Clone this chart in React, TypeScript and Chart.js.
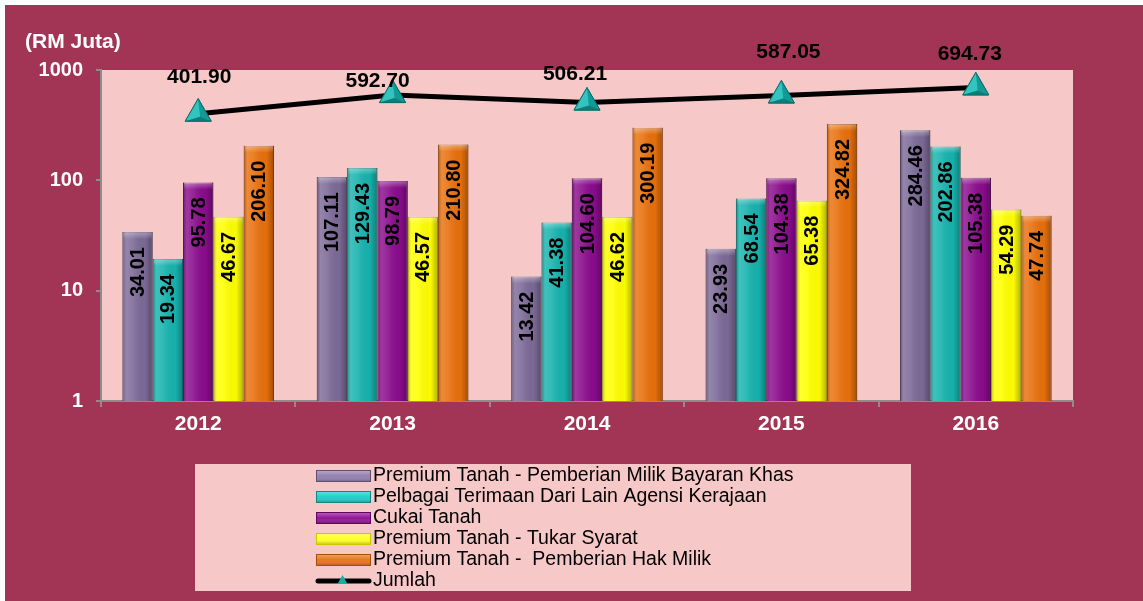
import React, { useEffect, useRef } from 'react';
import { Chart, registerables } from 'chart.js';

Chart.register(...registerables);

// ---- Data ----
const YEARS = ['2012', '2013', '2014', '2015', '2016'];
const SERIES_NAMES = [
  'Premium Tanah - Pemberian Milik Bayaran Khas',
  'Pelbagai Terimaan Dari Lain Agensi Kerajaan',
  'Cukai Tanah',
  'Premium Tanah - Tukar Syarat',
  'Premium Tanah -  Pemberian Hak Milik',
];
const LINE_NAME = 'Jumlah';
const PREMIUM_BAYARAN_KHAS = [34.01, 107.11, 13.42, 23.93, 284.46];
const PELBAGAI_TERIMAAN = [19.34, 129.43, 41.38, 68.54, 202.86];
const CUKAI_TANAH = [95.78, 98.79, 104.6, 104.38, 105.38];
const TUKAR_SYARAT = [46.67, 46.57, 46.62, 65.38, 54.29];
const HAK_MILIK = [206.1, 210.8, 300.19, 324.82, 47.74];
const JUMLAH = [401.9, 592.7, 506.21, 587.05, 694.73];
const Y_TICKS = [1, 10, 100, 1000];
const Y_TITLE = '(RM Juta)';

// ---- Styles ----
const FONT = '"Liberation Sans", Arial, sans-serif';
const PAGE_BG = '#A23456';
const PLOT_BG = '#F7C8C8';
const BAR_COLORS = ['#7D6A98', '#17B3AE', '#8A0C8C', '#FFFF00', '#E8700C'];
const BAR_BORDERS = ['#5E4E74', '#0E8682', '#5E0660', '#C8C800', '#A84E06'];
const LEGEND_COLORS = ['#9580B0', '#1CCFCB', '#93149A', '#FFFF22', '#E8761E'];
const LINE_LABEL_DX = [1, -15, -12, 7, -6];
const LINE_LABEL_DY = [-36, -14, -28, -43, -33];

const BAR_SERIES = [PREMIUM_BAYARAN_KHAS, PELBAGAI_TERIMAAN, CUKAI_TANAH, TUKAR_SYARAT, HAK_MILIK];

const decor = {
  id: 'decor',
  beforeDraw(chart: any) {
    const { ctx, chartArea: a } = chart;
    ctx.save();
    ctx.fillStyle = PLOT_BG;
    ctx.fillRect(a.left, a.top, a.right - a.left, a.bottom - a.top);
    ctx.restore();
  },
  afterDatasetDraw(chart: any, args: any) {
    const ds = chart.data.datasets[args.index];
    if (ds.type !== 'bar') return;
    const { ctx } = chart;
    const meta = chart.getDatasetMeta(args.index);
    ctx.save();
    meta.data.forEach((el: any) => {
      const { x, y, base, width } = el.getProps(['x', 'y', 'base', 'width'], true);
      const left = x - width / 2;
      const h = base - y;
      const g = ctx.createLinearGradient(left, 0, left + width, 0);
      g.addColorStop(0, 'rgba(0,0,0,0.25)');
      g.addColorStop(0.12, 'rgba(255,255,255,0.18)');
      g.addColorStop(0.35, 'rgba(255,255,255,0.10)');
      g.addColorStop(0.75, 'rgba(0,0,0,0.02)');
      g.addColorStop(1, 'rgba(0,0,0,0.30)');
      ctx.fillStyle = g;
      ctx.fillRect(left, y, width, h);
      const gt = ctx.createLinearGradient(0, y, 0, y + 7);
      gt.addColorStop(0, 'rgba(255,255,255,0.35)');
      gt.addColorStop(1, 'rgba(255,255,255,0)');
      ctx.fillStyle = gt;
      ctx.fillRect(left + 1, y, width - 2, 7);
    });
    ctx.restore();
  },
  afterDatasetsDraw(chart: any) {
    const { ctx } = chart;
    ctx.save();
    chart.data.datasets.forEach((ds: any, di: number) => {
      const meta = chart.getDatasetMeta(di);
      if (ds.type === 'bar') {
        ctx.font = `bold 20px ${FONT}`;
        ctx.fillStyle = '#000';
        ctx.textAlign = 'right';
        ctx.textBaseline = 'middle';
        meta.data.forEach((el: any, i: number) => {
          const { x, y } = el.getProps(['x', 'y'], true);
          ctx.save();
          ctx.translate(x + 1, y + 15);
          ctx.rotate(-Math.PI / 2);
          ctx.fillText(ds.data[i].toFixed(2), 0, 0);
          ctx.restore();
        });
      } else {
        meta.data.forEach((el: any, i: number) => {
          const { x, y } = el.getProps(['x', 'y'], true);
          const r = 15;
          const ax = x, ay = y - r;
          const lx = x - 0.866 * r, ly = y + 0.5 * r;
          const rx = x + 0.866 * r, ry = y + 0.5 * r;
          const cx = x + 2, cy = y + 0.2 * r;
          // left face
          ctx.beginPath();
          ctx.moveTo(ax, ay); ctx.lineTo(lx, ly); ctx.lineTo(cx, cy); ctx.closePath();
          ctx.fillStyle = '#33C4BF'; ctx.fill();
          // right face
          ctx.beginPath();
          ctx.moveTo(ax, ay); ctx.lineTo(cx, cy); ctx.lineTo(rx, ry); ctx.closePath();
          ctx.fillStyle = '#129A96'; ctx.fill();
          // bottom face
          ctx.beginPath();
          ctx.moveTo(lx, ly); ctx.lineTo(cx, cy); ctx.lineTo(rx, ry); ctx.closePath();
          ctx.fillStyle = '#0C7E7A'; ctx.fill();
          ctx.beginPath();
          ctx.moveTo(ax, ay); ctx.lineTo(lx, ly); ctx.lineTo(rx, ry); ctx.closePath();
          ctx.strokeStyle = '#0B6F6C'; ctx.lineWidth = 1; ctx.stroke();
          // value label
          ctx.font = `bold 21px ${FONT}`;
          ctx.fillStyle = '#000';
          ctx.textAlign = 'center';
          ctx.textBaseline = 'middle';
          ctx.fillText(ds.data[i].toFixed(2), x + LINE_LABEL_DX[i], y + LINE_LABEL_DY[i]);
        });
      }
    });
    ctx.restore();
  },
  afterDraw(chart: any) {
    const { ctx } = chart;
    ctx.save();
    // y title
    ctx.font = `bold 21px ${FONT}`;
    ctx.fillStyle = '#FFFFFF';
    ctx.textAlign = 'left';
    ctx.textBaseline = 'middle';
    ctx.fillText(Y_TITLE, 20, 37);
    // legend box
    const bx = 190, by = 459, bw = 716, bh = 127;
    ctx.fillStyle = PLOT_BG;
    ctx.fillRect(bx, by, bw, bh);
    const sx = 311, sw = 55, rowY = [471, 492, 513, 534, 555, 576];
    ctx.font = `19.5px ${FONT}`;
    ctx.textBaseline = 'middle';
    SERIES_NAMES.forEach((name, i) => {
      const cy = rowY[i];
      ctx.fillStyle = LEGEND_COLORS[i];
      ctx.fillRect(sx, cy - 6, sw, 12);
      const g = ctx.createLinearGradient(0, cy - 6, 0, cy + 6);
      g.addColorStop(0, 'rgba(255,255,255,0.35)');
      g.addColorStop(0.5, 'rgba(255,255,255,0)');
      g.addColorStop(1, 'rgba(0,0,0,0.3)');
      ctx.fillStyle = g;
      ctx.fillRect(sx, cy - 6, sw, 12);
      ctx.strokeStyle = BAR_BORDERS[i];
      ctx.lineWidth = 1;
      ctx.strokeRect(sx + 0.5, cy - 5.5, sw - 1, 11);
      ctx.fillStyle = '#000';
      ctx.fillText(name, sx + sw + 2, cy);
    });
    const ly = rowY[5];
    ctx.strokeStyle = '#000';
    ctx.lineWidth = 5;
    ctx.lineCap = 'round';
    ctx.beginPath();
    ctx.moveTo(sx + 2, ly);
    ctx.lineTo(sx + sw - 2, ly);
    ctx.stroke();
    ctx.fillStyle = '#17ADA8';
    ctx.beginPath();
    const tx = sx + sw / 2 - 1;
    ctx.moveTo(tx, ly - 6); ctx.lineTo(tx - 5, ly + 3); ctx.lineTo(tx + 5, ly + 3); ctx.closePath();
    ctx.fill();
    ctx.fillStyle = '#000';
    ctx.fillText(LINE_NAME, sx + sw + 2, ly);
    ctx.restore();
  },
};

export default function App() {
  const ref = useRef<HTMLCanvasElement | null>(null);
  useEffect(() => {
    if (!ref.current) return;
    const barDatasets = BAR_SERIES.map((values, i) => ({
      type: 'bar' as const,
      label: SERIES_NAMES[i],
      data: values,
      backgroundColor: BAR_COLORS[i],
      borderColor: BAR_BORDERS[i],
      borderWidth: 1,
      categoryPercentage: 0.78,
      barPercentage: 1,
      order: 1,
    }));
    const chart = new Chart(ref.current, {
      type: 'bar',
      data: {
        labels: YEARS,
        datasets: [
          ...barDatasets,
          {
            type: 'line' as const,
            label: LINE_NAME,
            data: JUMLAH,
            borderColor: '#000',
            borderWidth: 5,
            pointStyle: 'triangle',
            pointRadius: 15,
            pointBackgroundColor: '#1BAFAB',
            pointBorderColor: '#0B6F6C',
            pointBorderWidth: 1,
            clip: false,
            order: 0,
          } as any,
        ],
      },
      options: {
        animation: false,
        responsive: false,
        maintainAspectRatio: false,
        layout: { padding: { left: 0, top: 65, right: 70, bottom: 160 } },
        plugins: { legend: { display: false }, tooltip: { enabled: false }, title: { display: false } },
        scales: {
          x: {
            afterFit: (s: any) => { s.height = 40; },
            grid: { display: true, drawOnChartArea: false, offset: true, tickLength: 6, color: '#8C8C8C', lineWidth: 2 },
            border: { display: true, color: '#8C8C8C', width: 2 },
            ticks: { color: '#FFFFFF', font: { family: FONT, size: 21, weight: 'bold' }, padding: 5 },
          },
          y: {
            type: 'logarithmic',
            min: 1,
            max: 1000,
            afterFit: (s: any) => { s.width = 96; },
            afterBuildTicks: (s: any) => { s.ticks = Y_TICKS.map((v) => ({ value: v })); },
            grid: { display: true, drawOnChartArea: false, tickLength: 5, color: '#8C8C8C', lineWidth: 2 },
            border: { display: true, color: '#8C8C8C', width: 2 },
            ticks: {
              color: '#FFFFFF',
              font: { family: FONT, size: 20, weight: 'bold' },
              padding: 13,
              callback: (v: any) => String(v),
            },
          },
        },
      } as any,
      plugins: [decor],
    });
    return () => chart.destroy();
  }, []);
  return (
    <div style={{ position: 'absolute', left: 5, top: 5, width: 1138, height: 596, background: PAGE_BG }}>
      <canvas ref={ref} width={1138} height={596} style={{ display: 'block', width: 1138, height: 596 }} />
    </div>
  );
}
